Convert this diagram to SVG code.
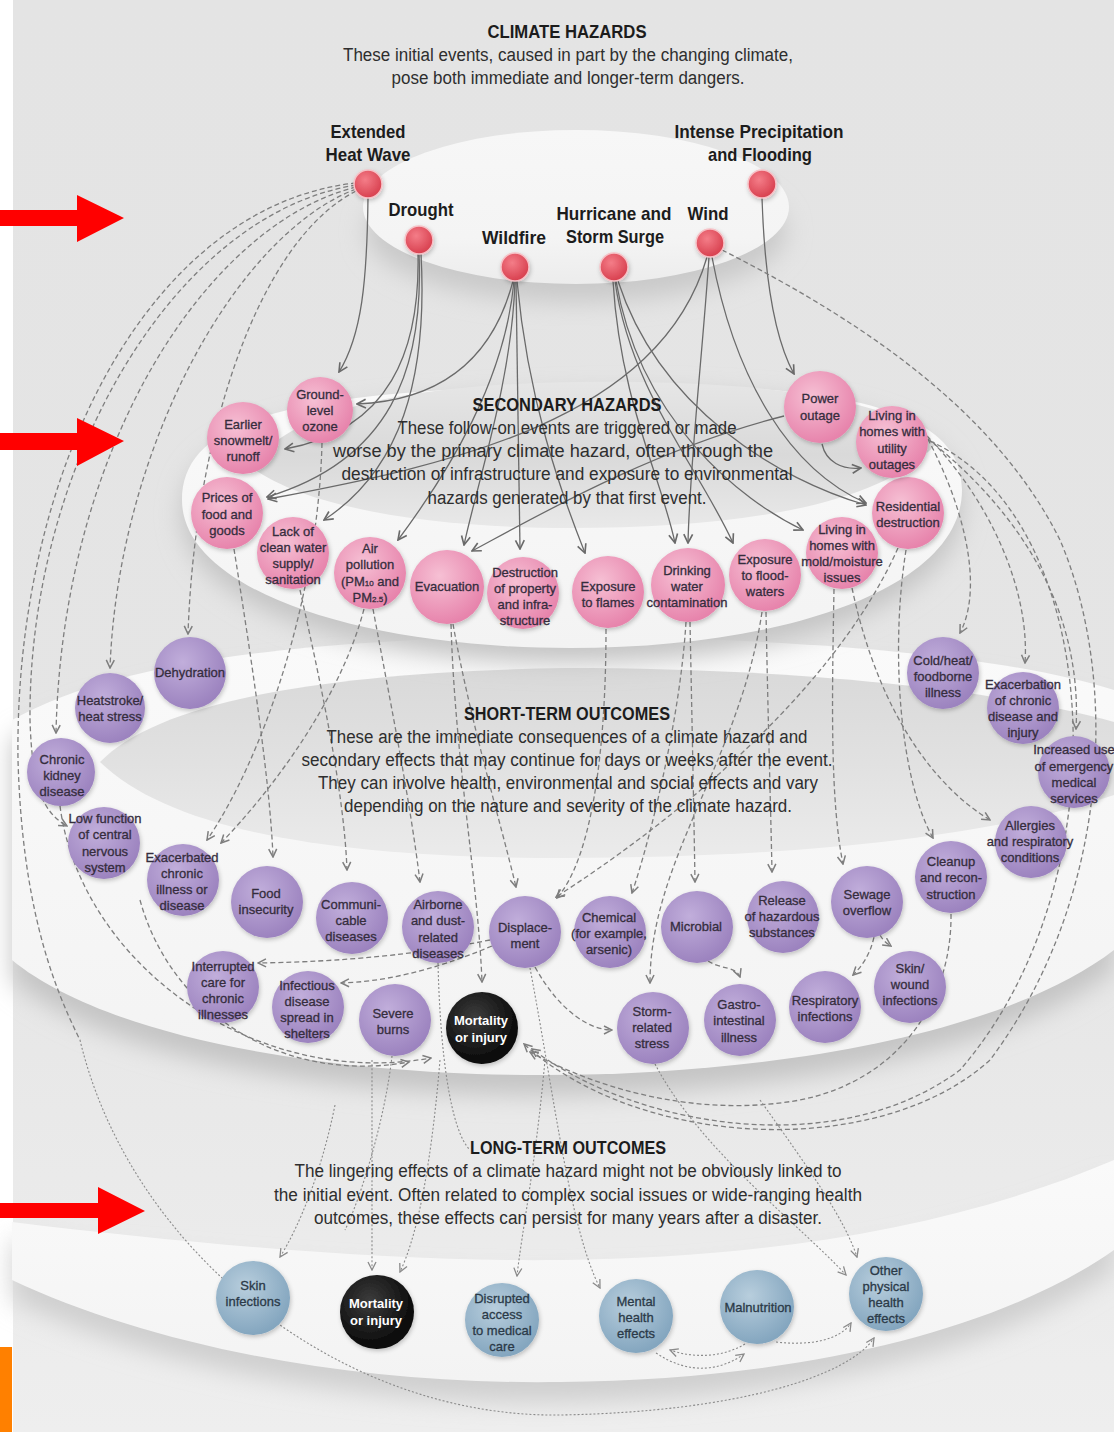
<svg xmlns="http://www.w3.org/2000/svg" width="1114" height="1432" viewBox="0 0 1114 1432">
<defs>
<style>
.t{font-family:"Liberation Sans Narrow","Liberation Sans",Arial,sans-serif;text-anchor:middle;dominant-baseline:central}
.w{font-family:"Liberation Sans",Arial,sans-serif;text-anchor:middle;dominant-baseline:central}
.nl{font-size:13px;fill:#352d3d;stroke:#352d3d;stroke-width:0.3}
.bl{font-size:13px;fill:#2b3a48;stroke:#2b3a48;stroke-width:0.3}
.wl{font-size:13px;fill:#ffffff;font-weight:bold}
.hz{font-size:19px;font-weight:bold;fill:#1c1c1c}
.ti{font-size:19px;font-weight:bold;fill:#1c1c1c}
.p{font-size:18px;fill:#2e2e2e}
.s{fill:none;stroke:#6a6a6a;stroke-width:1.3;marker-end:url(#ah)}
.d{fill:none;stroke:#7e7e7e;stroke-width:1.3;stroke-dasharray:5 3;marker-end:url(#ad)}
.d0{fill:none;stroke:#7e7e7e;stroke-width:1.3;stroke-dasharray:5 3}
.l{fill:none;stroke:#8a8a8a;stroke-width:1.1;stroke-dasharray:2 2;marker-end:url(#al)}
.l0{fill:none;stroke:#8a8a8a;stroke-width:1.1;stroke-dasharray:2 2}
.nd{filter:url(#sh)}
</style>
<marker id="ah" viewBox="0 0 10 10" refX="9" refY="5" markerWidth="11" markerHeight="11" markerUnits="userSpaceOnUse" orient="auto"><path d="M1,1 L9,5 L1,9" fill="none" stroke="#6a6a6a" stroke-width="1.5"/></marker>
<marker id="ad" viewBox="0 0 10 10" refX="9" refY="5" markerWidth="10" markerHeight="10" markerUnits="userSpaceOnUse" orient="auto"><path d="M1,1 L9,5 L1,9" fill="none" stroke="#7e7e7e" stroke-width="1.5"/></marker>
<marker id="al" viewBox="0 0 10 10" refX="9" refY="5" markerWidth="10" markerHeight="10" markerUnits="userSpaceOnUse" orient="auto"><path d="M1,1 L9,5 L1,9" fill="none" stroke="#8a8a8a" stroke-width="1.3"/></marker>
<linearGradient id="bg" x1="0" y1="0" x2="0" y2="1"><stop offset="0" stop-color="#e4e4e4"/><stop offset="0.6" stop-color="#e5e5e5"/><stop offset="1" stop-color="#eeeeee"/></linearGradient>
<linearGradient id="topg" x1="0" y1="0" x2="0" y2="1"><stop offset="0" stop-color="#f7f7f7"/><stop offset="0.7" stop-color="#f4f4f4"/><stop offset="1" stop-color="#ececec"/></linearGradient>
<linearGradient id="well2" x1="0" y1="0" x2="0" y2="1"><stop offset="0" stop-color="#e6e6e6"/><stop offset="0.5" stop-color="#d9d9d9"/><stop offset="1" stop-color="#e9e9e9"/></linearGradient>
<linearGradient id="well3" x1="0" y1="0" x2="0" y2="1"><stop offset="0" stop-color="#d9d9d9"/><stop offset="0.5" stop-color="#e1e1e1"/><stop offset="1" stop-color="#ebebeb"/></linearGradient>
<linearGradient id="band" x1="0" y1="0" x2="0" y2="1"><stop offset="0" stop-color="#fafafa"/><stop offset="1" stop-color="#f3f3f3"/></linearGradient>
<radialGradient id="gr" cx="40%" cy="35%" r="65%"><stop offset="0" stop-color="#f47d88"/><stop offset="1" stop-color="#d8404f"/></radialGradient>
<radialGradient id="gp" cx="40%" cy="35%" r="65%"><stop offset="0" stop-color="#f6c0d4"/><stop offset="1" stop-color="#e784ac"/></radialGradient>
<radialGradient id="gu" cx="40%" cy="35%" r="65%"><stop offset="0" stop-color="#c1aedb"/><stop offset="1" stop-color="#9c83bf"/></radialGradient>
<radialGradient id="gb" cx="40%" cy="35%" r="65%"><stop offset="0" stop-color="#b8cedd"/><stop offset="1" stop-color="#84a6bf"/></radialGradient>
<radialGradient id="gk" cx="40%" cy="35%" r="65%"><stop offset="0" stop-color="#3c3c3c"/><stop offset="1" stop-color="#070707"/></radialGradient>
<filter id="sh" x="-30%" y="-30%" width="160%" height="160%"><feDropShadow dx="1" dy="2" stdDeviation="2" flood-color="#000" flood-opacity="0.22"/></filter>
<filter id="blur" x="-20%" y="-20%" width="140%" height="140%"><feGaussianBlur stdDeviation="12"/></filter>
</defs>

<g id="background">
<rect x="0" y="0" width="1114" height="1432" fill="url(#bg)"/>
<rect x="0" y="0" width="13" height="1432" fill="#ffffff"/>
</g>

<g id="tier-long-term">
<path d="M12,1240 C200,1262 400,1280 560,1278 C760,1276 950,1248 1114,1180 L1114,1270 C1000,1350 800,1400 560,1402 C350,1405 150,1365 12,1300 Z" fill="#cfcfcf" filter="url(#blur)"/>
<path d="M12,1222 C200,1245 400,1262 560,1260 C760,1258 950,1230 1114,1160 L1114,1250 C1000,1330 800,1380 560,1382 C350,1385 150,1345 12,1280 Z" fill="url(#band)"/>
</g>

<g id="tier-short-term">
<path d="M12,740 C120,680 300,660 560,655 C820,660 1000,675 1114,710 L1114,970 C900,1135 200,1135 12,980 Z" fill="#c4c4c4" filter="url(#blur)"/>
<path d="M12,720 C120,660 300,640 560,635 C820,640 1000,655 1114,690 L1114,950 C900,1115 200,1115 12,960 Z" fill="url(#band)"/>
<path d="M100,762 C160,700 330,672 565,668 C800,668 1000,690 1114,722 L1114,795 C1000,835 800,858 565,858 C330,858 170,830 100,762 Z" fill="url(#well3)"/>
</g>

<g id="tier-secondary">
<path d="M182,515 C182,435 290,403 570,395 C850,387 962,425 962,505 C962,605 780,663 570,663 C360,663 182,605 182,515 Z" fill="#c4c4c4" filter="url(#blur)"/>
<path d="M182,500 C182,420 290,390 570,386 C850,380 962,410 962,490 C962,590 780,648 570,648 C360,648 182,590 182,500 Z" fill="url(#band)"/>
<path d="M250,466 C300,400 440,384 580,382 C760,380 900,398 935,445 C880,505 740,528 570,528 C420,528 300,505 250,466 Z" fill="url(#well2)"/>
</g>

<g id="tier-climate">
<ellipse cx="576" cy="232" rx="210" ry="70" fill="#c9c9c9" filter="url(#blur)"/>
<ellipse cx="576" cy="207" rx="213" ry="77" fill="url(#topg)"/>
</g>

<g id="connectors">
<path class="s" d="M368,198 C367,280 362,335 339,372"/>
<path class="s" d="M418,254 C420,350 390,430 285,449"/>
<path class="s" d="M419,254 C424,370 390,460 267,497"/>
<path class="s" d="M421,254 C428,380 400,470 324,520"/>
<path class="s" d="M513,281 C495,350 450,400 357,404"/>
<path class="s" d="M514,281 C505,380 450,470 398,540"/>
<path class="s" d="M515,281 C512,380 478,480 464,545"/>
<path class="s" d="M516,281 C518,380 519,470 520,549"/>
<path class="s" d="M517,281 C528,400 560,490 585,553"/>
<path class="s" d="M613,281 C620,400 662,480 675,543"/>
<path class="s" d="M615,281 C630,390 700,470 733,543"/>
<path class="s" d="M616,281 C640,420 740,500 803,530"/>
<path class="s" d="M618,281 C660,410 780,480 866,505"/>
<path class="s" d="M709,257 C702,360 690,460 688,543"/>
<path class="s" d="M707,257 C660,420 450,465 268,499"/>
<path class="s" d="M712,257 C735,380 790,470 866,503"/>
<path class="s" d="M762,198 C765,290 778,345 794,374"/>
<path class="s" d="M822,444 C826,462 842,470 861,468"/>
<path class="s" d="M784,416 C650,450 530,520 472,551"/>
<path class="d" d="M356,191 C260,240 195,430 188,634"/>
<path class="d" d="M356,189 C235,235 118,450 110,668"/>
<path class="d" d="M356,187 C205,225 62,450 56,733"/>
<path class="d" d="M356,185 C170,215 28,470 30,720 C32,785 42,812 67,826"/>
<path class="d0" d="M356,183 C150,205 14,470 18,760 C22,900 50,980 80,1040"/>
<path class="d" d="M322,443 C318,600 262,760 207,840"/>
<path class="d" d="M364,609 C340,700 272,790 221,843"/>
<path class="d" d="M234,549 C250,650 270,780 273,857"/>
<path class="d" d="M300,590 C320,680 344,790 347,870"/>
<path class="d" d="M373,609 C390,700 410,800 420,882"/>
<path class="d" d="M451,624 C455,760 478,880 482,982"/>
<path class="d" d="M453,624 C470,720 500,820 516,887"/>
<path class="d" d="M606,629 C606,760 590,860 557,898"/>
<path class="d" d="M686,622 C680,720 650,840 632,893"/>
<path class="d" d="M690,622 C692,720 694,820 695,882"/>
<path class="d" d="M766,612 C768,720 771,820 772,872"/>
<path class="d" d="M762,612 C740,760 650,860 650,983"/>
<path class="d" d="M834,589 C832,700 830,800 843,864"/>
<path class="d" d="M852,588 C880,720 940,790 990,820"/>
<path class="d" d="M906,550 C890,650 900,780 933,838"/>
<path class="d" d="M898,548 C830,700 660,830 556,897"/>
<path class="d" d="M924,432 C962,500 985,585 960,633"/>
<path class="d" d="M927,436 C990,500 1030,590 1025,663"/>
<path class="d" d="M928,439 C1030,520 1082,620 1076,729"/>
<path class="d" d="M930,441 C1105,520 1125,880 960,1070 C840,1160 640,1130 532,1049"/>
<path class="d" d="M722,250 C880,330 1000,420 1060,540 C1120,680 1110,900 990,1060 C880,1160 640,1150 524,1044"/>
<path class="d" d="M708,961 C722,970 736,966 740,977"/>
<path class="d" d="M874,937 C870,955 862,966 853,975"/>
<path class="d" d="M880,935 C884,942 888,944 891,946"/>
<path class="d" d="M490,940 C400,958 320,962 258,963"/>
<path class="d" d="M492,946 C430,972 380,982 341,983"/>
<path class="d" d="M535,967 C560,1012 590,1030 612,1030"/>
<path class="d" d="M951,914 C952,1000 900,1080 800,1100 C700,1118 600,1090 530,1052"/>
<path class="d" d="M60,806 C80,960 250,1090 431,1058"/>
<path class="d" d="M140,900 C170,1010 280,1085 409,1062"/>
<path class="l" d="M335,1105 C322,1170 300,1225 280,1257"/>
<path class="l" d="M372,1060 C372,1160 372,1230 372,1270"/>
<path class="l" d="M440,1060 C430,1180 415,1240 400,1272"/>
<path class="l" d="M545,1060 C535,1170 522,1230 517,1276"/>
<path class="l" d="M530,968 C555,1100 570,1230 600,1288"/>
<path class="l" d="M655,1064 C700,1150 800,1225 846,1275"/>
<path class="l" d="M760,1100 C810,1170 845,1220 857,1257"/>
<path class="l" d="M745,1344 C722,1358 692,1358 670,1350"/>
<path class="l" d="M656,1353 C690,1376 722,1370 744,1354"/>
<path class="l" d="M776,1342 C810,1346 840,1340 851,1323"/>
<path class="l" d="M80,1040 C130,1250 340,1418 560,1415 C740,1412 850,1375 874,1338"/>
<path class="l0" d="M392,1056 C385,1120 360,1200 345,1230"/>
<path class="l0" d="M438,963 C440,1050 450,1130 470,1150"/>
</g>

<g id="n-heatwave"><circle class="nd" cx="368" cy="184" r="14" fill="url(#gr)" stroke="#f6c2c7" stroke-width="1.5"/><text class="t hz" x="368" y="131" textLength="75" lengthAdjust="spacingAndGlyphs">Extended</text><text class="t hz" x="368" y="154" textLength="85" lengthAdjust="spacingAndGlyphs">Heat Wave</text></g>
<g id="n-drought"><circle class="nd" cx="419" cy="240" r="14" fill="url(#gr)" stroke="#f6c2c7" stroke-width="1.5"/><text class="t hz" x="421" y="209" textLength="65" lengthAdjust="spacingAndGlyphs">Drought</text></g>
<g id="n-wildfire"><circle class="nd" cx="515" cy="267" r="14" fill="url(#gr)" stroke="#f6c2c7" stroke-width="1.5"/><text class="t hz" x="514" y="237" textLength="64" lengthAdjust="spacingAndGlyphs">Wildfire</text></g>
<g id="n-hurricane"><circle class="nd" cx="614" cy="267" r="14" fill="url(#gr)" stroke="#f6c2c7" stroke-width="1.5"/><text class="t hz" x="614" y="213" textLength="115" lengthAdjust="spacingAndGlyphs">Hurricane and</text><text class="t hz" x="615" y="236" textLength="98" lengthAdjust="spacingAndGlyphs">Storm Surge</text></g>
<g id="n-wind"><circle class="nd" cx="710" cy="243" r="14" fill="url(#gr)" stroke="#f6c2c7" stroke-width="1.5"/><text class="t hz" x="708" y="213" textLength="41" lengthAdjust="spacingAndGlyphs">Wind</text></g>
<g id="n-precip"><circle class="nd" cx="762" cy="184" r="14" fill="url(#gr)" stroke="#f6c2c7" stroke-width="1.5"/><text class="t hz" x="759" y="131" textLength="169" lengthAdjust="spacingAndGlyphs">Intense Precipitation</text><text class="t hz" x="760" y="154" textLength="104" lengthAdjust="spacingAndGlyphs">and Flooding</text></g>

<g id="n-ozone"><circle class="nd" cx="320" cy="410" r="33" fill="url(#gp)"/><text class="t nl"><tspan x="320" y="394">Ground-</tspan><tspan x="320" y="410">level</tspan><tspan x="320" y="426">ozone</tspan></text></g>
<g id="n-snowmelt"><circle class="nd" cx="243" cy="438" r="36" fill="url(#gp)"/><text class="t nl"><tspan x="243" y="424">Earlier</tspan><tspan x="243" y="440">snowmelt/</tspan><tspan x="243" y="456">runoff</tspan></text></g>
<g id="n-prices"><circle class="nd" cx="227" cy="513" r="36" fill="url(#gp)"/><text class="t nl"><tspan x="227" y="497">Prices of</tspan><tspan x="227" y="514">food and</tspan><tspan x="227" y="530">goods</tspan></text></g>
<g id="n-water"><circle class="nd" cx="293" cy="553" r="36" fill="url(#gp)"/><text class="t nl"><tspan x="293" y="531">Lack of</tspan><tspan x="293" y="547">clean water</tspan><tspan x="293" y="563">supply/</tspan><tspan x="293" y="579">sanitation</tspan></text></g>
<g id="n-air"><circle class="nd" cx="370" cy="573" r="36" fill="url(#gp)"/><text class="t nl"><tspan x="370" y="548">Air</tspan><tspan x="370" y="564">pollution</tspan><tspan x="370" y="581">(PM<tspan font-size="8" dy="2">10</tspan><tspan dy="-2"> and</tspan></tspan><tspan x="370" y="597">PM<tspan font-size="8" dy="2">2.5</tspan><tspan dy="-2">)</tspan></tspan></text></g>
<g id="n-evacuation"><circle class="nd" cx="447" cy="587" r="37" fill="url(#gp)"/><text class="t nl" x="447" y="586">Evacuation</text></g>
<g id="n-destruction"><circle class="nd" cx="523" cy="593" r="36" fill="url(#gp)"/><text class="t nl"><tspan x="525" y="572">Destruction</tspan><tspan x="525" y="588">of property</tspan><tspan x="525" y="604">and infra-</tspan><tspan x="525" y="620">structure</tspan></text></g>
<g id="n-flames"><circle class="nd" cx="608" cy="592" r="36" fill="url(#gp)"/><text class="t nl"><tspan x="608" y="586">Exposure</tspan><tspan x="608" y="602">to flames</tspan></text></g>
<g id="n-drinking"><circle class="nd" cx="688" cy="585" r="37" fill="url(#gp)"/><text class="t nl"><tspan x="687" y="570">Drinking</tspan><tspan x="687" y="586">water</tspan><tspan x="687" y="602">contamination</tspan></text></g>
<g id="n-floodwaters"><circle class="nd" cx="765" cy="575" r="36" fill="url(#gp)"/><text class="t nl"><tspan x="765" y="559">Exposure</tspan><tspan x="765" y="575">to flood-</tspan><tspan x="765" y="591">waters</tspan></text></g>
<g id="n-mold"><circle class="nd" cx="842" cy="553" r="36" fill="url(#gp)"/><text class="t nl"><tspan x="842" y="529">Living in</tspan><tspan x="842" y="545">homes with</tspan><tspan x="842" y="561">mold/moisture</tspan><tspan x="842" y="577">issues</tspan></text></g>
<g id="n-residential"><circle class="nd" cx="908" cy="513" r="36" fill="url(#gp)"/><text class="t nl"><tspan x="908" y="506">Residential</tspan><tspan x="908" y="522">destruction</tspan></text></g>
<g id="n-utility"><circle class="nd" cx="892" cy="442" r="36" fill="url(#gp)"/><text class="t nl"><tspan x="892" y="415">Living in</tspan><tspan x="892" y="431">homes with</tspan><tspan x="892" y="448">utility</tspan><tspan x="892" y="464">outages</tspan></text></g>
<g id="n-power"><circle class="nd" cx="820" cy="407" r="36" fill="url(#gp)"/><text class="t nl"><tspan x="820" y="398">Power</tspan><tspan x="820" y="415">outage</tspan></text></g>

<g id="n-dehydration"><circle class="nd" cx="190" cy="673" r="36" fill="url(#gu)"/><text class="t nl" x="190" y="672">Dehydration</text></g>
<g id="n-heatstroke"><circle class="nd" cx="110" cy="708" r="35" fill="url(#gu)"/><text class="t nl"><tspan x="110" y="700">Heatstroke/</tspan><tspan x="110" y="716">heat stress</tspan></text></g>
<g id="n-kidney"><circle class="nd" cx="61" cy="772" r="34" fill="url(#gu)"/><text class="t nl"><tspan x="62" y="759">Chronic</tspan><tspan x="62" y="775">kidney</tspan><tspan x="62" y="791">disease</tspan></text></g>
<g id="n-cns"><circle class="nd" cx="104" cy="843" r="36" fill="url(#gu)"/><text class="t nl"><tspan x="105" y="818">Low function</tspan><tspan x="105" y="834">of central</tspan><tspan x="105" y="851">nervous</tspan><tspan x="105" y="867">system</tspan></text></g>
<g id="n-exacerbated"><circle class="nd" cx="183" cy="880" r="36" fill="url(#gu)"/><text class="t nl"><tspan x="182" y="857">Exacerbated</tspan><tspan x="182" y="873">chronic</tspan><tspan x="182" y="889">illness or</tspan><tspan x="182" y="905">disease</tspan></text></g>
<g id="n-food"><circle class="nd" cx="267" cy="902" r="36" fill="url(#gu)"/><text class="t nl"><tspan x="266" y="893">Food</tspan><tspan x="266" y="909">insecurity</tspan></text></g>
<g id="n-communicable"><circle class="nd" cx="352" cy="918" r="36" fill="url(#gu)"/><text class="t nl"><tspan x="351" y="904">Communi-</tspan><tspan x="351" y="920">cable</tspan><tspan x="351" y="936">diseases</tspan></text></g>
<g id="n-airborne"><circle class="nd" cx="438" cy="927" r="36" fill="url(#gu)"/><text class="t nl"><tspan x="438" y="904">Airborne</tspan><tspan x="438" y="920">and dust-</tspan><tspan x="438" y="937">related</tspan><tspan x="438" y="953">diseases</tspan></text></g>
<g id="n-displacement"><circle class="nd" cx="525" cy="932" r="36" fill="url(#gu)"/><text class="t nl"><tspan x="525" y="927">Displace-</tspan><tspan x="525" y="943">ment</tspan></text></g>
<g id="n-chemical"><circle class="nd" cx="610" cy="932" r="36" fill="url(#gu)"/><text class="t nl"><tspan x="609" y="917">Chemical</tspan><tspan x="609" y="933">(for example,</tspan><tspan x="609" y="949">arsenic)</tspan></text></g>
<g id="n-microbial"><circle class="nd" cx="697" cy="927" r="36" fill="url(#gu)"/><text class="t nl" x="696" y="926">Microbial</text></g>
<g id="n-release"><circle class="nd" cx="783" cy="917" r="36" fill="url(#gu)"/><text class="t nl"><tspan x="782" y="900">Release</tspan><tspan x="782" y="916">of hazardous</tspan><tspan x="782" y="932">substances</tspan></text></g>
<g id="n-sewage"><circle class="nd" cx="867" cy="902" r="36" fill="url(#gu)"/><text class="t nl"><tspan x="867" y="894">Sewage</tspan><tspan x="867" y="910">overflow</tspan></text></g>
<g id="n-cleanup"><circle class="nd" cx="951" cy="877" r="36" fill="url(#gu)"/><text class="t nl"><tspan x="951" y="861">Cleanup</tspan><tspan x="951" y="877">and recon-</tspan><tspan x="951" y="894">struction</tspan></text></g>
<g id="n-allergies"><circle class="nd" cx="1031" cy="842" r="36" fill="url(#gu)"/><text class="t nl"><tspan x="1030" y="825">Allergies</tspan><tspan x="1030" y="841">and respiratory</tspan><tspan x="1030" y="857">conditions</tspan></text></g>
<g id="n-emergency"><circle class="nd" cx="1074" cy="772" r="36" fill="url(#gu)"/><text class="t nl"><tspan x="1074" y="749">Increased use</tspan><tspan x="1074" y="766">of emergency</tspan><tspan x="1074" y="782">medical</tspan><tspan x="1074" y="798">services</tspan></text></g>
<g id="n-exacerbation"><circle class="nd" cx="1023" cy="708" r="36" fill="url(#gu)"/><text class="t nl"><tspan x="1023" y="684">Exacerbation</tspan><tspan x="1023" y="700">of chronic</tspan><tspan x="1023" y="716">disease and</tspan><tspan x="1023" y="732">injury</tspan></text></g>
<g id="n-coldheat"><circle class="nd" cx="943" cy="673" r="36" fill="url(#gu)"/><text class="t nl"><tspan x="943" y="660">Cold/heat/</tspan><tspan x="943" y="676">foodborne</tspan><tspan x="943" y="692">illness</tspan></text></g>
<g id="n-interrupted"><circle class="nd" cx="223" cy="987" r="36" fill="url(#gu)"/><text class="t nl"><tspan x="223" y="966">Interrupted</tspan><tspan x="223" y="982">care for</tspan><tspan x="223" y="998">chronic</tspan><tspan x="223" y="1014">illnesses</tspan></text></g>
<g id="n-infectious"><circle class="nd" cx="308" cy="1007" r="36" fill="url(#gu)"/><text class="t nl"><tspan x="307" y="985">Infectious</tspan><tspan x="307" y="1001">disease</tspan><tspan x="307" y="1017">spread in</tspan><tspan x="307" y="1033">shelters</tspan></text></g>
<g id="n-burns"><circle class="nd" cx="395" cy="1020" r="36" fill="url(#gu)"/><text class="t nl"><tspan x="393" y="1013">Severe</tspan><tspan x="393" y="1029">burns</tspan></text></g>
<g id="n-mortality-short"><circle class="nd" cx="482" cy="1028" r="36" fill="url(#gk)"/><text class="t wl"><tspan x="481" y="1020">Mortality</tspan><tspan x="481" y="1037">or injury</tspan></text></g>
<g id="n-stormstress"><circle class="nd" cx="653" cy="1028" r="36" fill="url(#gu)"/><text class="t nl"><tspan x="652" y="1011">Storm-</tspan><tspan x="652" y="1027">related</tspan><tspan x="652" y="1043">stress</tspan></text></g>
<g id="n-gastro"><circle class="nd" cx="740" cy="1020" r="36" fill="url(#gu)"/><text class="t nl"><tspan x="739" y="1004">Gastro-</tspan><tspan x="739" y="1020">intestinal</tspan><tspan x="739" y="1037">illness</tspan></text></g>
<g id="n-respiratory"><circle class="nd" cx="825" cy="1007" r="36" fill="url(#gu)"/><text class="t nl"><tspan x="825" y="1000">Respiratory</tspan><tspan x="825" y="1016">infections</tspan></text></g>
<g id="n-skinwound"><circle class="nd" cx="910" cy="987" r="36" fill="url(#gu)"/><text class="t nl"><tspan x="910" y="968">Skin/</tspan><tspan x="910" y="984">wound</tspan><tspan x="910" y="1000">infections</tspan></text></g>

<g id="n-skin-long"><circle class="nd" cx="253" cy="1298" r="37" fill="url(#gb)"/><text class="t bl"><tspan x="253" y="1285">Skin</tspan><tspan x="253" y="1301">infections</tspan></text></g>
<g id="n-mortality-long"><circle class="nd" cx="377" cy="1312" r="37" fill="url(#gk)"/><text class="t wl"><tspan x="376" y="1303">Mortality</tspan><tspan x="376" y="1320">or injury</tspan></text></g>
<g id="n-disrupted"><circle class="nd" cx="502" cy="1320" r="37" fill="url(#gb)"/><text class="t bl"><tspan x="502" y="1298">Disrupted</tspan><tspan x="502" y="1314">access</tspan><tspan x="502" y="1330">to medical</tspan><tspan x="502" y="1346">care</tspan></text></g>
<g id="n-mental"><circle class="nd" cx="636" cy="1316" r="37" fill="url(#gb)"/><text class="t bl"><tspan x="636" y="1301">Mental</tspan><tspan x="636" y="1317">health</tspan><tspan x="636" y="1333">effects</tspan></text></g>
<g id="n-malnutrition"><circle class="nd" cx="757" cy="1307" r="37" fill="url(#gb)"/><text class="t bl" x="758" y="1307">Malnutrition</text></g>
<g id="n-otherphysical"><circle class="nd" cx="886" cy="1294" r="37" fill="url(#gb)"/><text class="t bl"><tspan x="886" y="1270">Other</tspan><tspan x="886" y="1286">physical</tspan><tspan x="886" y="1302">health</tspan><tspan x="886" y="1318">effects</tspan></text></g>

<g id="section-texts">
<text class="t ti" x="567" y="31" textLength="159" lengthAdjust="spacingAndGlyphs">CLIMATE HAZARDS</text>
<text class="t p" x="568" y="55" textLength="450" lengthAdjust="spacingAndGlyphs">These initial events, caused in part by the changing climate,</text>
<text class="t p" x="568" y="78" textLength="353" lengthAdjust="spacingAndGlyphs">pose both immediate and longer-term dangers.</text>
<text class="w ti" x="567" y="404" textLength="189" lengthAdjust="spacingAndGlyphs">SECONDARY HAZARDS</text>
<text class="w p" x="567" y="428" textLength="339" lengthAdjust="spacingAndGlyphs">These follow-on events are triggered or made</text>
<text class="w p" x="553" y="451" textLength="440" lengthAdjust="spacingAndGlyphs">worse by the primary climate hazard, often through the</text>
<text class="w p" x="567" y="474" textLength="451" lengthAdjust="spacingAndGlyphs">destruction of infrastructure and exposure to environmental</text>
<text class="w p" x="567" y="498" textLength="279" lengthAdjust="spacingAndGlyphs">hazards generated by that first event.</text>
<text class="t ti" x="567" y="713" textLength="206" lengthAdjust="spacingAndGlyphs">SHORT-TERM OUTCOMES</text>
<text class="t p" x="567" y="737" textLength="481" lengthAdjust="spacingAndGlyphs">These are the immediate consequences of a climate hazard and</text>
<text class="t p" x="567" y="760" textLength="531" lengthAdjust="spacingAndGlyphs">secondary effects that may continue for days or weeks after the event.</text>
<text class="t p" x="568" y="783" textLength="500" lengthAdjust="spacingAndGlyphs">They can involve health, environmental and social effects and vary</text>
<text class="t p" x="568" y="806" textLength="448" lengthAdjust="spacingAndGlyphs">depending on the nature and severity of the climate hazard.</text>
<text class="t ti" x="568" y="1147" textLength="196" lengthAdjust="spacingAndGlyphs">LONG-TERM OUTCOMES</text>
<text class="t p" x="568" y="1171" textLength="547" lengthAdjust="spacingAndGlyphs">The lingering effects of a climate hazard might not be obviously linked to</text>
<text class="t p" x="568" y="1195" textLength="588" lengthAdjust="spacingAndGlyphs">the initial event. Often related to complex social issues or wide-ranging health</text>
<text class="t p" x="568" y="1218" textLength="508" lengthAdjust="spacingAndGlyphs">outcomes, these effects can persist for many years after a disaster.</text>
</g>

<g id="annotations">
<polygon points="0,210 77,210 77,195 124,218 77,242 77,226 0,226" fill="#ff0000"/>
<polygon points="0,433 77,433 77,418 124,441 77,466 77,450 0,450" fill="#ff0000"/>
<polygon points="0,1203 98,1203 98,1187 145,1211 98,1234 98,1218 0,1218" fill="#ff0000"/>
<rect x="0" y="1347" width="12" height="85" fill="#ff8000"/>
</g>
</svg>
